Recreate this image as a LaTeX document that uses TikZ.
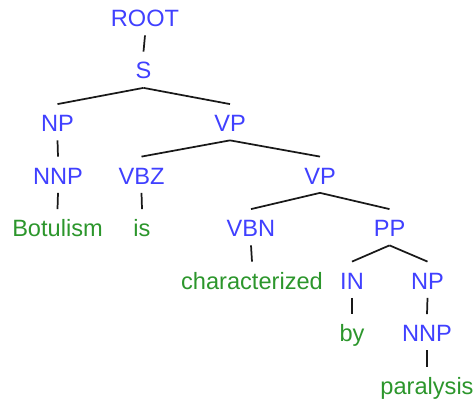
\documentclass[tikz,border=0pt]{standalone}
\usepackage{fontspec}
\setmainfont{Liberation Sans}
\usepackage{xcolor}
\definecolor{tagblue}{RGB}{64,64,255}
\definecolor{wordgreen}{RGB}{44,150,44}

\begin{document}
\begin{tikzpicture}[x=0.75pt, y=-0.75pt,
		tag/.style={anchor=base, inner sep=0pt, text height=19.9pt, text depth=6pt,
			font=\fontsize{17.7}{20}\selectfont, text=tagblue},
		word/.style={tag, text=wordgreen},
		every path/.style={line width=1.3pt, black!90}]
			\useasboundingbox (0,0) rectangle (474,403);
			
			\node[tag](root) at (145,26.5) {ROOT};
			\node[tag](s) at (143.5,79) {S};
			\node[tag](np1) at (57.5,131.5) {NP};
			\node[tag](vp1) at (230,131.5) {VP};
			\node[tag](nnp1) at (58,184) {NNP};
			\node[tag](vbz) at (141.5,184) {VBZ};
			\node[tag](vp2) at (320,184) {VP};
			\node[word](botulism) at (57.5,236.5) {Botulism};
			\node[word](is) at (142,236.5) {is};
			\node[tag](vbn) at (251,236.5) {VBN};
			\node[tag](pp) at (389.5,236.5) {PP};
			\node[word](characterized) at (252,289) {characterized};
			\node[tag](in) at (352,289) {IN};
			\node[tag](np2) at (427.5,289) {NP};
			\node[word](by) at (352,341.5) {by};
			\node[tag](nnp2) at (427,341.5) {NNP};
			\node[word](paralysis) at (427,394) {paralysis};
			
			\draw (root.south) -- (s.north);
			\draw (s.south) -- (np1.north);
			\draw (s.south) -- (vp1.north);
			\draw (np1.south) -- (nnp1.north);
			\draw (vp1.south) -- (vbz.north);
			\draw (vp1.south) -- (vp2.north);
			\draw (nnp1.south) -- (botulism.north);
			\draw (vbz.south) -- (is.north);
			\draw (vp2.south) -- (vbn.north);
			\draw (vp2.south) -- (pp.north);
			\draw (vbn.south) -- (characterized.north);
			\draw (pp.south) -- (in.north);
			\draw (pp.south) -- (np2.north);
			\draw (in.south) -- (by.north);
			\draw (np2.south) -- (nnp2.north);
			\draw (nnp2.south) -- (paralysis.north);
		\end{tikzpicture}
\end{document}
